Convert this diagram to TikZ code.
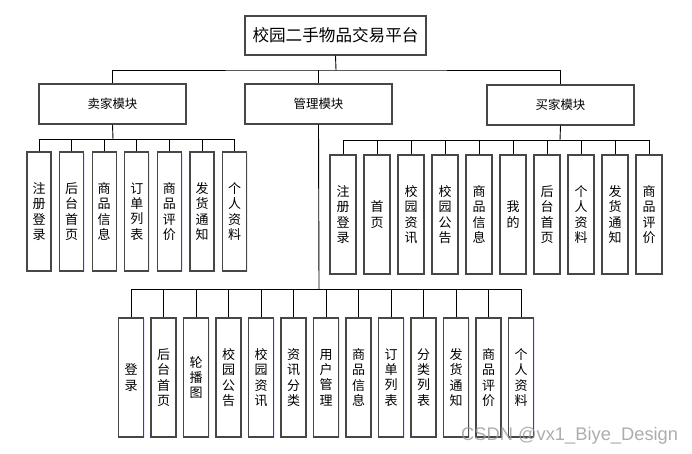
\documentclass[tikz,border=0pt]{standalone}
\usepackage{fontspec}
\setmainfont{Noto Sans CJK SC}
\newfontfamily\wmfont{Liberation Sans}
\usetikzlibrary{shadows}
\tikzset{
  x=1pt,y=-1pt,
  box/.style={draw=black!72,line width=1.3pt,fill=white,inner sep=0pt,
    drop shadow={shadow xshift=1.2pt,shadow yshift=-1.2pt,fill=blue!25,opacity=0.35}},
  topbox/.style={box,minimum width=181pt,minimum height=39pt,font=\fontsize{16.6}{18}\selectfont},
  modbox/.style={box,minimum width=147pt,minimum height=40pt,font=\fontsize{12.4}{14}\selectfont},
  subbox/.style={box,minimum height=119pt,align=center,font=\fontsize{13}{15.3}\selectfont},
  sbox/.style={subbox,minimum width=24pt},
  bbox/.style={subbox,minimum width=26pt},
  mbox/.style={subbox,minimum width=25pt},
  conn/.style={draw=black,line width=0.9pt},
}
\begin{document}
\begin{tikzpicture}
\useasboundingbox (0,0) rectangle (692,453);
\fill[white] (0,0) rectangle (692,453);
% top
\node[topbox] (top) at (335.5,35.5) {校园二手物品交易平台};
\node[modbox] (seller) at (112.5,104) {卖家模块};
\node[modbox] (manage) at (318.5,104) {管理模块};
\node[modbox] (buyer) at (560.5,105) {买家模块};
\coordinate (bus) at (336,70);
% seller subs
\foreach \i/\t in {1/注\\册\\登\\录,2/后\\台\\首\\页,3/商\\品\\信\\息,4/订\\单\\列\\表,5/商\\品\\评\\价,6/发\\货\\通\\知,7/个\\人\\资\\料}{
  \node[sbox] (s\i) at ({39+32.6*(\i-1)},211.5) {\t};
}
% buyer subs
\foreach \i/\t in {1/注\\册\\登\\录,2/首\\页,3/校\\园\\资\\讯,4/校\\园\\公\\告,5/商\\品\\信\\息,6/我\\的,7/后\\台\\首\\页,8/个\\人\\资\\料,9/发\\货\\通\\知,10/商\\品\\评\\价}{
  \node[bbox] (b\i) at ({343+34*(\i-1)},214.5) {\t};
}
% manage subs
\foreach \i/\t in {1/登\\录,2/后\\台\\首\\页,3/轮\\播\\图,4/校\\园\\公\\告,5/校\\园\\资\\讯,6/资\\讯\\分\\类,7/用\\户\\管\\理,8/商\\品\\信\\息,9/订\\单\\列\\表,10/分\\类\\列\\表,11/发\\货\\通\\知,12/商\\品\\评\\价,13/个\\人\\资\\料}{
  \node[mbox] (m\i) at ({131+32.5*(\i-1)},377.5) {\t};
}
\coordinate (sbus) at (113,139);
\coordinate (bbus) at (560,140);
\coordinate (mbus) at (319,289);
% connectors level 1
\draw[conn] (top.south) -- (bus);
\draw[conn] (seller.north) |- (bus) -| (buyer.north);
\draw[conn] (manage.north) -- (manage.north |- bus);
% seller
\draw[conn] (seller.south) -- (sbus);
\draw[conn] (s1.north |- sbus) -- (s7.north |- sbus);
\foreach \i in {1,...,7}{\draw[conn] (s\i.north) -- (s\i.north |- sbus);}
% buyer
\draw[conn] (buyer.south) -- (bbus);
\draw[conn] (b1.north |- bbus) -- (b10.north |- bbus);
\foreach \i in {1,...,10}{\draw[conn] (b\i.north) -- (b\i.north |- bbus);}
% manage
\draw[conn] (manage.south) -- (mbus);
\draw[conn] (m1.north |- mbus) -- (m13.north |- mbus);
\foreach \i in {1,...,13}{\draw[conn] (m\i.north) -- (m\i.north |- mbus);}
% watermark
\node[anchor=base west,inner sep=0pt,text=black!40,opacity=0.8,font=\wmfont\fontsize{18.3}{19}\selectfont] (wm) at (461,440) {CSDN @vx1\_Biye\_Design};
\end{tikzpicture}
\end{document}
